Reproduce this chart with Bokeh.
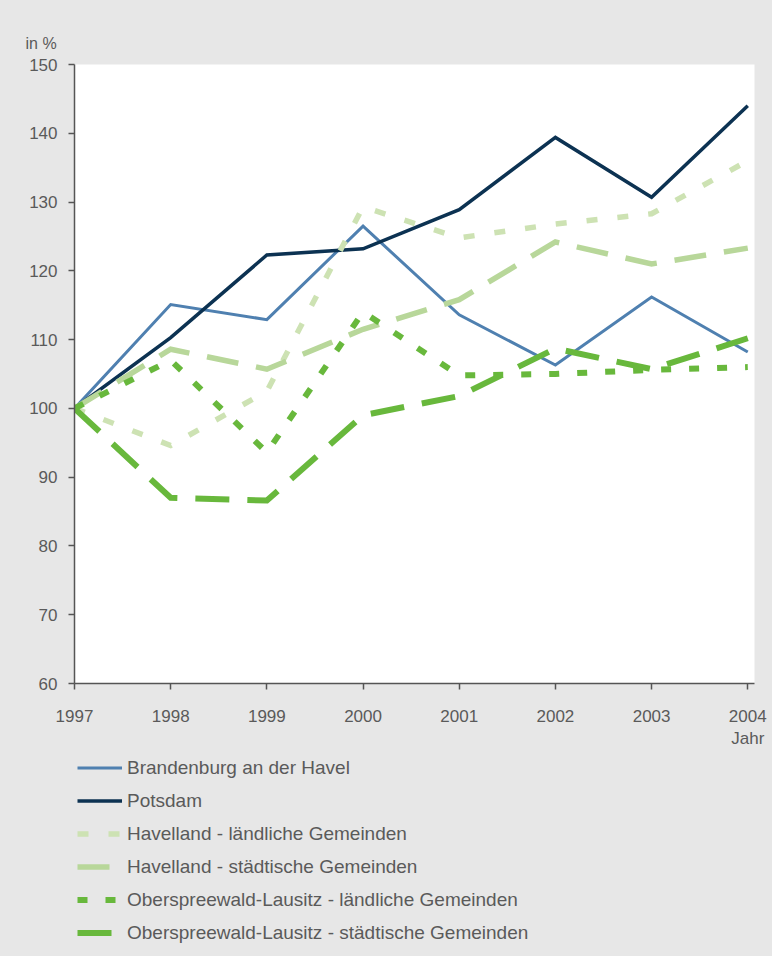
import re
from bokeh.plotting import figure
from bokeh.layouts import column
from bokeh.models import Legend, LegendItem, FixedTicker
from bokeh.embed import file_html
from bokeh.resources import INLINE

years = [1997, 1998, 1999, 2000, 2001, 2002, 2003, 2004]
brandenburg = [100, 115.1, 112.9, 126.5, 113.6, 106.3, 116.2, 108.2]
potsdam = [100, 110.3, 122.3, 123.2, 128.9, 139.4, 130.7, 144.0]
havel_laend = [100, 94.6, 102.5, 129.3, 124.8, 126.8, 128.3, 136.0]
havel_staedt = [100, 108.6, 105.7, 111.5, 115.8, 124.2, 121.0, 123.3]
osl_laend = [100, 107.0, 93.6, 114.0, 104.8, 105.0, 105.6, 106.0]
osl_staedt = [100, 87.0, 86.6, 99.0, 101.8, 108.7, 105.7, 110.2]

series_names = [
    "Brandenburg an der Havel",
    "Potsdam",
    "Havelland - ländliche Gemeinden",
    "Havelland - städtische Gemeinden",
    "Oberspreewald-Lausitz - ländliche Gemeinden",
    "Oberspreewald-Lausitz - städtische Gemeinden",
]
y_ticks = [60, 70, 80, 90, 100, 110, 120, 130, 140, 150]

BG = "#e7e7e7"
TXT = "#5a5a5a"
FONT = "Liberation Sans"

p = figure(width=772, height=751, output_backend="svg", toolbar_location=None,
           x_range=(1997, 2004.07), y_range=(60, 150),
           min_border_left=74, min_border_right=18, min_border_top=64,
           min_border_bottom=66, title="in %")
p.border_fill_color = BG
p.background_fill_color = "white"
p.outline_line_color = None
p.xgrid.visible = False
p.ygrid.visible = False

p.title.align = "left"
p.title.offset = -49
p.title.standoff = 26
p.title.text_font = FONT
p.title.text_font_size = "16px"
p.title.text_font_style = "normal"
p.title.text_color = TXT

for ax in (p.xaxis[0], p.yaxis[0]):
    ax.axis_line_color = "#555555"
    ax.axis_line_width = 1.5
    ax.major_tick_line_color = "#555555"
    ax.major_tick_line_width = 1.5
    ax.major_tick_out = 6
    ax.major_tick_in = 0
    ax.minor_tick_line_color = None
    ax.major_label_text_font = FONT
    ax.major_label_text_font_size = "17px"
    ax.major_label_text_color = TXT

p.xaxis.ticker = FixedTicker(ticks=years)
p.xaxis.major_label_standoff = 17
p.xaxis.major_label_overrides = {2004: "2004\nJahr"}
p.yaxis.ticker = FixedTicker(ticks=y_ticks)
p.yaxis.major_label_standoff = 11

styles = [
    dict(color="#4f80b0", width=3, dash="solid"),
    dict(color="#0c3252", width=3.5, dash="solid"),
    dict(color="#cde2b3", width=5.5, dash="11 20"),
    dict(color="#b8d79a", width=5.5, dash="32 18"),
    dict(color="#68b83c", width=6, dash="10 18"),
    dict(color="#68b83c", width=6, dash="34 18"),
]
data = [brandenburg, potsdam, havel_laend, havel_staedt, osl_laend, osl_staedt]

for vals, st in zip(data, styles):
    p.line(years, vals, line_color=st["color"], line_width=st["width"],
           line_dash=st["dash"], line_join="miter", line_cap="butt")

# legend panel below the chart (its own series are out of its view range)
p2 = figure(width=772, height=205, output_backend="svg", toolbar_location=None,
            x_range=(0, 1), y_range=(0, 1), x_axis_location=None,
            y_axis_location=None, min_border=0)
p2.border_fill_color = BG
p2.background_fill_color = BG
p2.outline_line_color = None
p2.xgrid.visible = False
p2.ygrid.visible = False

items = []
for name, vals, st in zip(series_names, data, styles):
    r = p2.line(years, vals, line_color=st["color"], line_width=st["width"],
                line_dash=st["dash"], line_cap="butt")
    items.append(LegendItem(label=name, renderers=[r]))

legend = Legend(items=items, location=(3, 7), orientation="vertical",
                padding=0, margin=0, spacing=0, glyph_width=45, glyph_height=33,
                label_height=33, label_standoff=5,
                label_text_font=FONT, label_text_font_size="19px",
                label_text_color=TXT, background_fill_alpha=0,
                border_line_color=None)
p2.add_layout(legend, "center")

layout = column(p, p2, spacing=0, styles={"background-color": BG})
html = file_html(layout, INLINE)
html = re.sub(r"<body[^>]*>", '<body style="background:%s;">' % BG, html, count=1)
open("out.html", "w").write(html)
